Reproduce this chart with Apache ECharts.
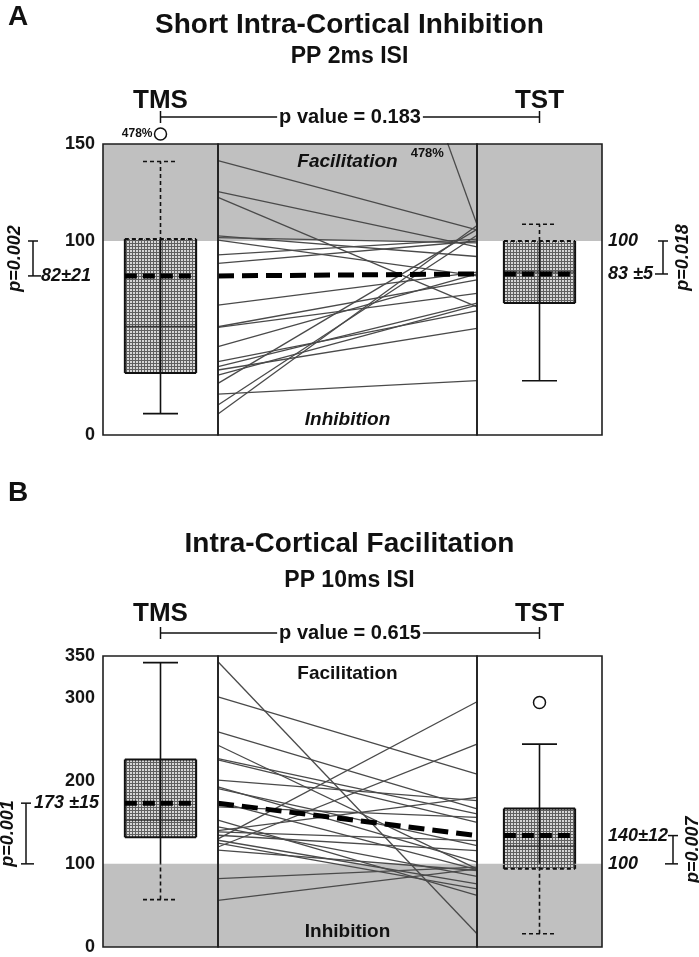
<!DOCTYPE html>
<html><head><meta charset="utf-8">
<script src="https://cdn.jsdelivr.net/npm/echarts@6/dist/echarts.min.js"></script>
<style>html,body{margin:0;padding:0;background:#fff}#c{width:699px;height:957px}</style>
</head><body><div id="c"></div>
<script>
// ---------------- DATA ----------------
const groups = ['TMS', 'TST'];
const panelLetters = ['A', 'B'];
const panelTitles = ['Short Intra-Cortical Inhibition', 'Intra-Cortical Facilitation'];
const panelSubtitles = ['PP 2ms ISI', 'PP 10ms ISI'];
const pValueTexts = ['p value = 0.183', 'p value = 0.615'];
const bandLabels = ['Facilitation', 'Inhibition'];
const refLevel = 100;
const yMaxA = 150, yMaxB = 350;
const yTicksA = [0, 100, 150];
const yTicksB = [0, 100, 200, 300, 350];

// paired individual values (% of test MEP), SICI 2 ms
const sici_TMS = [478, 141.4, 125.4, 122.5, 102.6, 101.7, 100.5, 92.8, 88.5, 67, 55.8, 55.5, 45.5, 37.8, 35.2, 33.5, 30.9, 26.6, 21.1, 15.5, 10.8];
const sici_TST = [108.5, 105.7, 97, 66, 92, 99, 82, 101, 100, 84, 80, 73, 83, 64, 68, 55, 67, 106, 28, 103, 108];
// paired individual values, ICF 10 ms
const icf_TMS = [343, 300.9, 258.7, 242.7, 226.7, 225, 200.6, 192.6, 190.6, 174.5, 168.5, 152.5, 144.4, 140, 138.4, 134.4, 130, 128.4, 125, 120.3, 116.4, 82.3, 56.2];
const icf_TST = [16, 208, 166, 94, 160, 150, 176, 102, 122, 93, 156, 62, 85, 180, 128, 116, 295, 76, 70, 244, 92, 96, 94];

// box stats [min, Q1, median, Q3, max]
const siciBoxTMS = [11, 32, 56, 101, 141];
const siciBoxTST = [28, 68, 84, 100, 108.6];
const icfBoxTMS = [57, 132, 152.5, 225.5, 342];
const icfBoxTST = [16, 94, 121.5, 166.5, 244];
const siciMeans = [82, 83];
const icfMeans = [173, 134];
const siciOutliers = [[478], []];
const icfOutliers = [[], [294]];
const siciMeanLabels = ['82±21', '83 ±5'];
const icfMeanLabels = ['173 ±15', '140±12'];
const siciPvsRef = ['p=0.002', 'p=0.018'];
const icfPvsRef = ['p=0.001', 'p=0.007'];

// ---------------- LAYOUT / STYLE ----------------
const FONT = '"Liberation Sans", Arial, Helvetica, sans-serif';
const GX = { L: [103, 115], M: [218, 259], R: [477, 125] };
const layout = [
  { gridTop: 144, gridH: 291, letterY: 17, titleY: 25, subY: 57, groupY: 101, bracketY: 117, bandStyle: 'italic', leftBr: -70, rightBr: 61, band: [refLevel, yMaxA] },
  { gridTop: 656, gridH: 291, letterY: 493, titleY: 544, subY: 581, groupY: 614, bracketY: 633, bandStyle: 'normal', leftBr: -77, rightBr: 71, band: [0, refLevel] }
];
const panels = [
  { letter: panelLetters[0], title: panelTitles[0], sub: panelSubtitles[0], p: pValueTexts[0], tms: sici_TMS, tst: sici_TST, boxes: [siciBoxTMS, siciBoxTST], means: siciMeans, outliers: siciOutliers, meanLabels: siciMeanLabels, pRef: siciPvsRef, yMax: yMaxA, ticks: yTicksA },
  { letter: panelLetters[1], title: panelTitles[1], sub: panelSubtitles[1], p: pValueTexts[1], tms: icf_TMS, tst: icf_TST, boxes: [icfBoxTMS, icfBoxTST], means: icfMeans, outliers: icfOutliers, meanLabels: icfMeanLabels, pRef: icfPvsRef, yMax: yMaxB, ticks: yTicksB }
];

function makePattern() {
  const c = document.createElement('canvas'); c.width = 3; c.height = 3;
  const g = c.getContext('2d');
  g.fillStyle = '#d6d6d6'; g.fillRect(0, 0, 3, 3);
  g.fillStyle = '#606060'; g.fillRect(0, 0, 3, 1); g.fillRect(0, 0, 1, 3);
  return c;
}
const PATTERN = makePattern();

function bandRenderer(params, api) {
  const cs = params.coordSys;
  const yHi = api.coord([0, api.value(2)])[1], yLo = api.coord([0, api.value(1)])[1];
  return { type: 'rect', shape: { x: cs.x, y: yHi, width: cs.width, height: yLo - yHi }, style: { fill: '#c0c0c0' } };
}

function boxRenderer(band, yMax, ratio, outliers) {
  return function (params, api) {
    const xc = api.coord([0, 0])[0];
    const bw = api.size([1, 0])[0] * ratio;
    const capW = 35;
    const Y = v => api.coord([0, v])[1];
    const mn = api.value(1), q1 = api.value(2), md = api.value(3), q3 = api.value(4), mx = api.value(5), mean = api.value(6);
    const inBand = v => v >= band[0] && v <= band[1];
    const solid = w => ({ stroke: '#111', lineWidth: w });
    const dashed = w => ({ stroke: '#111', lineWidth: w, lineDash: [4, 3] });
    const ch = [];
    const line = (x1, y1, x2, y2, st) => ch.push({ type: 'line', shape: { x1, y1, x2, y2 }, style: st });
    const vseg = (x, a, b, w) => {
      const lo = Math.min(a, b), hi = Math.max(a, b);
      const cuts = [lo].concat(band.filter(t => t > lo && t < hi)).concat([hi]);
      for (let i = 0; i < cuts.length - 1; i++) {
        const m = (cuts[i] + cuts[i + 1]) / 2;
        line(x, Y(cuts[i]), x, Y(cuts[i + 1]), inBand(m) ? dashed(w) : solid(w));
      }
    };
    const hseg = (x1, x2, v, w) => line(x1, Y(v), x2, Y(v), inBand(v) ? dashed(w) : solid(w));
    ch.push({ type: 'rect', shape: { x: xc - bw / 2, y: Y(q3), width: bw, height: Y(q1) - Y(q3) }, style: { fill: { image: PATTERN, repeat: 'repeat' } } });
    vseg(xc, mn, mx, 1.6);
    hseg(xc - capW / 2, xc + capW / 2, mn, 1.6);
    hseg(xc - capW / 2, xc + capW / 2, mx, 1.6);
    hseg(xc - bw / 2, xc + bw / 2, q1, 2);
    hseg(xc - bw / 2, xc + bw / 2, q3, 2);
    vseg(xc - bw / 2, q1, q3, 2);
    vseg(xc + bw / 2, q1, q3, 2);
    line(xc - bw / 2, Y(md), xc + bw / 2, Y(md), { stroke: '#222', lineWidth: 1 });
    line(xc - bw / 2, Y(mean), xc + bw / 2, Y(mean), { stroke: '#000', lineWidth: 5, lineDash: [12, 6] });
    outliers.forEach(v => {
      const off = v > yMax;
      const cy = off ? Y(yMax) - 10 : Y(v);
      ch.push({ type: 'circle', shape: { cx: xc, cy, r: 6 }, style: { fill: '#fff', stroke: '#111', lineWidth: 1.5 } });
      if (off) ch.push({ type: 'text', x: xc - 8, y: cy, style: { text: v + '%', align: 'right', verticalAlign: 'middle', fontSize: 12, fontWeight: 'bold', fontFamily: FONT, fill: '#111' } });
    });
    return { type: 'group', children: ch };
  };
}

function annotRenderer(side, brOff, range, texts, pText) {
  return function (params, api) {
    const cs = params.coordSys;
    const Y = v => api.coord([0, v])[1];
    const ch = [];
    const st = { stroke: '#111', lineWidth: 1.5 };
    const bx = side === 'left' ? cs.x + brOff : cs.x + cs.width + brOff;
    const ya = Y(range[0]), yb = Y(range[1]);
    ch.push({ type: 'line', shape: { x1: bx, y1: ya, x2: bx, y2: yb }, style: st });
    const ext = side === 'left' ? [-5, 8] : [-8, 5];
    ch.push({ type: 'line', shape: { x1: bx - 5, y1: ya, x2: bx + 5, y2: ya }, style: st });
    ch.push({ type: 'line', shape: { x1: bx + ext[0], y1: yb, x2: bx + ext[1], y2: yb }, style: st });
    texts.forEach(t => {
      const x = side === 'left' ? bx + 8 : cs.x + cs.width + 6;
      ch.push({ type: 'text', x, y: Y(t.v), style: { text: t.t, align: 'left', verticalAlign: 'middle', fontSize: 18, fontWeight: 'bold', fontStyle: 'italic', fontFamily: FONT, fill: '#111' } });
    });
    const px = side === 'left' ? bx - 18 : bx + 20;
    ch.push({ type: 'text', x: px, y: (ya + yb) / 2, rotation: Math.PI / 2, style: { text: pText, align: 'center', verticalAlign: 'middle', fontSize: 18, fontWeight: 'bold', fontStyle: 'italic', fontFamily: FONT, fill: '#111' } });
    return { type: 'group', children: ch };
  };
}

const opt = { animation: false, backgroundColor: '#fff', grid: [], xAxis: [], yAxis: [], series: [] };
panels.forEach((P, pi) => {
  const L = layout[pi];
  ['L', 'M', 'R'].forEach((k, j) => {
    const gi = pi * 3 + j;
    opt.grid.push({ left: GX[k][0], width: GX[k][1], top: L.gridTop, height: L.gridH, show: true, borderColor: '#1e1e1e', borderWidth: 1.6, backgroundColor: 'transparent', z: 10 });
    opt.xAxis.push({ type: 'category', gridIndex: gi, data: k === 'L' ? [groups[0]] : k === 'R' ? [groups[1]] : groups, boundaryGap: k !== 'M', show: false });
    opt.yAxis.push({ type: 'value', gridIndex: gi, min: 0, max: P.yMax, interval: 50, show: k === 'L',
      axisLine: { show: false }, axisTick: { show: false }, splitLine: { show: false },
      axisLabel: { formatter: v => P.ticks.includes(v) ? String(v) : '', fontSize: 18, fontWeight: 'bold', color: '#151515', fontFamily: FONT, margin: 8 } });
    opt.series.push({ type: 'custom', xAxisIndex: gi, yAxisIndex: gi, z: 1, silent: true, data: [[0, L.band[0], L.band[1]]], renderItem: bandRenderer });
  });
  const gL = pi * 3, gM = pi * 3 + 1, gR = pi * 3 + 2;
  P.tms.forEach((v, i) => {
    opt.series.push({ type: 'line', xAxisIndex: gM, yAxisIndex: gM, data: [v, P.tst[i]], symbol: 'none', silent: true, z: 3, lineStyle: { color: '#4a4a4a', width: 1.3 } });
  });
  opt.series.push({ type: 'line', xAxisIndex: gM, yAxisIndex: gM, data: P.means, symbol: 'none', silent: true, z: 5, lineStyle: { color: '#000', width: 5, type: [16, 8] } });
  [gL, gR].forEach((g, s) => {
    const b = P.boxes[s];
    opt.series.push({ type: 'custom', xAxisIndex: g, yAxisIndex: g, z: 4, silent: true,
      data: [[0, b[0], b[1], b[2], b[3], b[4], P.means[s]]],
      renderItem: boxRenderer(L.band, P.yMax, s === 0 ? 0.62 : 0.57, P.outliers[s]) });
  });
  const lo = Math.min(P.means[0], refLevel), hi = Math.max(P.means[0], refLevel);
  opt.series.push({ type: 'custom', xAxisIndex: gL, yAxisIndex: gL, z: 6, silent: true, data: [[0, 0]],
    renderItem: annotRenderer('left', L.leftBr, [hi, lo], [{ v: P.means[0], t: P.meanLabels[0] }], P.pRef[0]) });
  const lo2 = Math.min(P.means[1], refLevel), hi2 = Math.max(P.means[1], refLevel);
  opt.series.push({ type: 'custom', xAxisIndex: gR, yAxisIndex: gR, z: 6, silent: true, data: [[0, 0]],
    renderItem: annotRenderer('right', L.rightBr, [hi2, lo2], [{ v: P.means[1], t: P.meanLabels[1] }, { v: refLevel, t: String(refLevel) }], P.pRef[1]) });
});

const chart = echarts.init(document.getElementById('c'), null, { width: 699, height: 957, renderer: 'canvas' });
chart.setOption(opt);

const gfx = [];
panels.forEach((P, pi) => {
  const L = layout[pi];
  const gL = pi * 3, gM = pi * 3 + 1, gR = pi * 3 + 2;
  const xT = chart.convertToPixel({ xAxisIndex: gL }, 0);
  const xS = chart.convertToPixel({ xAxisIndex: gR }, 0);
  const m0 = chart.convertToPixel({ xAxisIndex: gM }, 0);
  const m1 = chart.convertToPixel({ xAxisIndex: gM }, 1);
  const yTop = chart.convertToPixel({ yAxisIndex: gM }, P.yMax);
  const yBot = chart.convertToPixel({ yAxisIndex: gM }, 0);
  const txt = (x, y, text, size, extra) => gfx.push({ type: 'text', x, y, z: 20, style: Object.assign({ text, fontSize: size, fontWeight: 'bold', fontFamily: FONT, fill: '#111', align: 'center', verticalAlign: 'middle' }, extra || {}) });
  const ln = (x1, y1, x2, y2) => gfx.push({ type: 'line', z: 19, shape: { x1, y1, x2, y2 }, style: { stroke: '#111', lineWidth: 1.5 } });
  txt(8, L.letterY, P.letter, 28, { align: 'left' });
  txt(349.5, L.titleY, P.title, 28);
  txt(349.5, L.subY, P.sub, 23);
  txt(xT, L.groupY, groups[0], 26);
  txt(xS, L.groupY, groups[1], 26);
  ln(xT, L.bracketY, xS, L.bracketY);
  ln(xT, L.bracketY - 6, xT, L.bracketY + 6);
  ln(xS, L.bracketY - 6, xS, L.bracketY + 6);
  txt((xT + xS) / 2, L.bracketY, P.p, 20, { backgroundColor: '#fff', padding: [0, 2] });
  txt((m0 + m1) / 2, yTop + 18, bandLabels[0], 19, { fontStyle: L.bandStyle });
  txt((m0 + m1) / 2, yBot - 15, bandLabels[1], 19, { fontStyle: L.bandStyle });
  P.tms.forEach((v, i) => {
    if (v > P.yMax) {
      const f = (v - P.yMax) / (v - P.tst[i]);
      txt(m0 + f * (m1 - m0) - 4, yTop + 9, v + '%', 13, { align: 'right' });
    }
  });
});
chart.setOption({ graphic: gfx });
</script>
</body></html>
